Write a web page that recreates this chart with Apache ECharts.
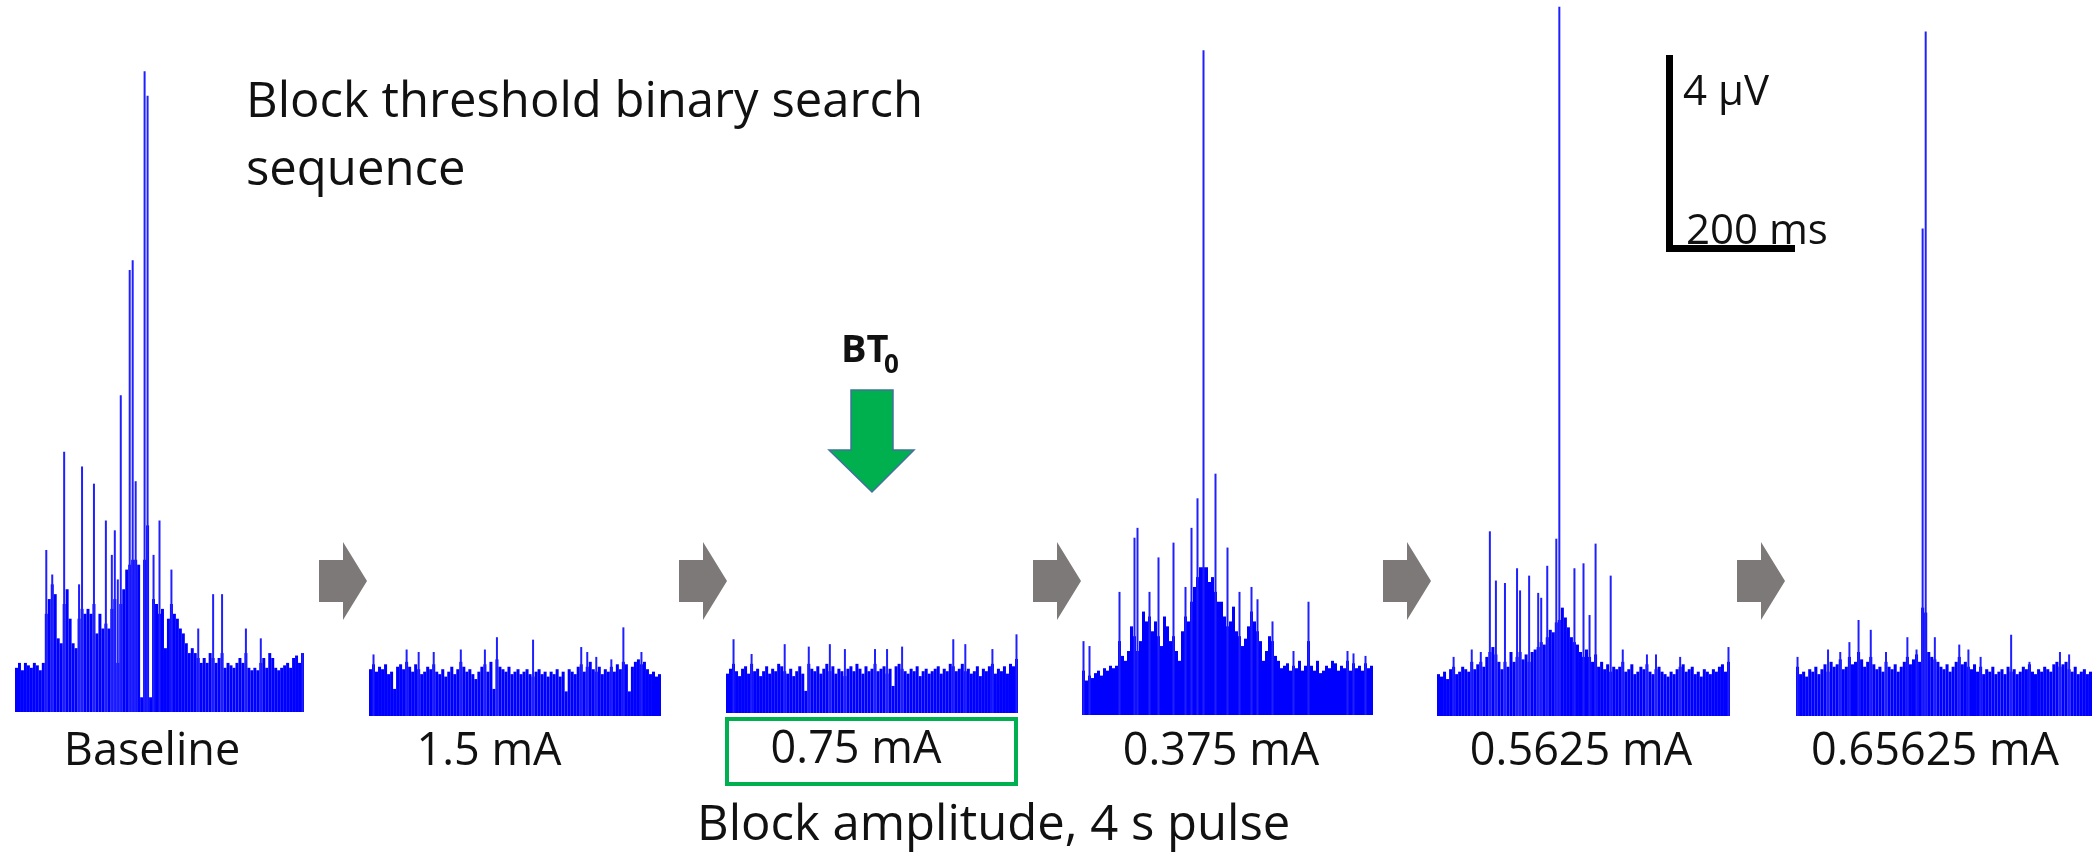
<!DOCTYPE html>
<html>
<head>
<meta charset="utf-8">
<title>Block threshold binary search sequence</title>
<script src="https://cdn.jsdelivr.net/npm/echarts@6.0.0/dist/echarts.min.js"></script>
<style>
  html, body { margin: 0; padding: 0; background: #fff; }
  #chart { width: 2100px; height: 865px; }
</style>
</head>
<body>
<div id="chart"></div>
<script>
// Rectified nerve activity, µV, one value per time bin (97 bins per trace).
// "Floor" = dense noise envelope, "spikes" = [bin, µV] single-unit peaks above it.
const baselineFloor = [
  0.9, 1.0, 0.85, 1.0, 0.95, 0.9, 1.0, 0.95, 0.85, 1.0,
  2.0, 2.3, 2.6, 2.4, 1.5, 1.4, 2.2, 2.5, 1.9, 1.4,
  1.3, 1.9, 2.1, 2.0, 2.1, 2.0, 2.2, 1.6, 2.0, 1.7,
  1.8, 1.7, 2.1, 2.3, 1.0, 2.2, 2.5, 2.9, 3.0, 3.1,
  3.1, 3.0, 0.3, 3.1, 3.8, 0.3, 2.3, 2.2, 2.0, 2.1,
  1.3, 1.9, 2.2, 2.0, 1.9, 1.7, 1.6, 1.4, 1.2, 1.3,
  1.2, 1.1, 1.0, 1.1, 1.0, 1.2, 1.1, 1.0, 1.1, 1.2,
  0.9, 1.0, 0.95, 0.9, 1.0, 1.1, 1.0, 1.2, 0.9, 0.85,
  0.9, 0.85, 1.0, 1.1, 0.9, 1.2, 1.1, 0.9, 0.85, 0.9,
  0.95, 1.0, 0.9, 1.1, 1.15, 1.0, 1.2
];
const baselineSpikes = [
  [10, 3.3], [12, 2.8], [16, 5.3], [21, 2.6], [22, 5.0], [26, 4.65], [30, 3.9],
  [32, 3.2], [33, 3.7], [34, 2.7], [35, 6.45], [38, 9.0], [39, 9.2], [40, 4.7],
  [43, 13.05], [44, 12.55], [46, 3.2], [48, 3.9], [52, 2.9], [61, 1.7], [66, 2.4],
  [69, 2.4], [77, 1.7], [82, 1.5], [96, 1.2]
];

const ma150Floor = [
  0.95, 1.05, 0.9, 1.0, 0.95, 1.05, 0.85, 0.9, 0.55, 1.0,
  1.05, 0.95, 1.1, 1.0, 0.9, 1.05, 0.95, 0.85, 0.9, 1.0,
  0.95, 1.05, 0.9, 0.85, 0.95, 0.8, 0.9, 1.0, 0.85, 0.95,
  1.1, 1.0, 0.9, 0.95, 0.85, 0.75, 0.9, 1.0, 1.05, 0.9,
  1.1, 0.55, 1.15, 1.0, 0.95, 0.9, 1.0, 0.85, 0.9, 0.95,
  0.85, 0.9, 0.95, 0.85, 0.8, 0.9, 0.95, 0.85, 0.9, 0.8,
  0.9, 0.85, 0.95, 0.8, 0.9, 0.5, 0.95, 0.9, 0.85, 1.0,
  1.05, 0.9, 1.0, 1.1, 0.95, 0.9, 1.0, 0.85, 0.95, 0.9,
  1.0, 0.9, 1.05, 0.95, 1.1, 1.05, 0.5, 1.0, 1.1, 1.15,
  1.05, 1.1, 0.95, 0.85, 0.9, 0.8, 0.85
];
const ma150Spikes = [
  [1, 1.25], [12, 1.35], [16, 1.3], [21, 1.3], [30, 1.35], [38, 1.35], [42, 1.6],
  [54, 1.55], [70, 1.4], [72, 1.3], [75, 1.2], [80, 1.15], [84, 1.8], [90, 1.3]
];

const ma075Floor = [
  0.8, 0.9, 1.0, 0.85, 0.75, 0.9, 0.95, 0.8, 1.0, 0.85,
  0.9, 0.75, 0.85, 0.95, 0.8, 0.9, 0.85, 1.0, 0.95, 0.85,
  0.8, 0.9, 0.75, 0.85, 0.95, 0.8, 0.45, 1.0, 0.9, 0.85,
  0.95, 0.8, 0.9, 1.0, 0.85, 0.95, 0.8, 0.9, 0.85, 0.75,
  0.9, 0.95, 0.85, 1.0, 0.9, 0.8, 0.95, 0.85, 0.9, 1.0,
  0.85, 0.9, 0.95, 0.8, 0.9, 0.55, 0.95, 1.0, 0.9, 0.85,
  0.8, 0.9, 0.85, 0.95, 0.75, 0.85, 0.9, 0.8, 0.85, 0.9,
  0.95, 0.8, 0.9, 0.85, 1.0, 0.95, 0.85, 0.9, 1.0, 0.85,
  0.9, 0.8, 0.85, 0.95, 0.75, 0.9, 0.85, 0.95, 1.0, 0.8,
  0.9, 0.85, 0.95, 0.8, 1.0, 0.95, 1.1
];
const ma075Spikes = [
  [2, 1.5], [8, 1.2], [19, 1.4], [27, 1.35], [34, 1.4], [39, 1.3], [49, 1.3],
  [53, 1.3], [58, 1.35], [75, 1.5], [79, 1.4], [88, 1.3], [96, 1.6]
];

const ma0375Floor = [
  0.9, 0.7, 0.8, 0.75, 0.85, 0.9, 0.8, 0.95, 0.9, 1.0,
  0.95, 1.0, 1.5, 1.2, 1.1, 1.3, 1.8, 1.6, 1.3, 1.5,
  2.1, 1.9, 2.0, 1.7, 1.9, 1.6, 1.4, 2.0, 1.8, 1.5,
  1.6, 1.3, 1.1, 1.7, 2.0, 1.9, 2.3, 2.6, 2.8, 3.0,
  3.0, 3.0, 2.7, 2.8, 2.5, 2.3, 2.3, 2.0, 1.8, 1.9,
  2.2, 1.7, 1.6, 1.4, 1.55, 1.8, 2.1, 1.9, 1.7, 1.5,
  1.1, 1.3, 1.6, 1.5, 1.2, 1.1, 0.95, 1.0, 1.05, 0.9,
  1.0, 0.95, 1.1, 0.9, 1.0, 1.5, 1.0, 0.9, 1.1, 0.85,
  0.9, 1.0, 0.95, 1.1, 1.05, 0.9, 1.0, 0.95, 1.1, 0.9,
  1.05, 0.95, 1.0, 0.9, 1.05, 0.95, 1.0
];
const ma0375Spikes = [
  [0, 1.5], [2, 1.4], [12, 2.5], [17, 3.6], [18, 3.8], [22, 2.5], [25, 3.2],
  [30, 3.5], [34, 2.6], [36, 3.8], [38, 4.4], [40, 13.5], [44, 4.9], [48, 3.4],
  [52, 2.5], [56, 2.6], [58, 2.35], [63, 1.9], [70, 1.3], [75, 2.3], [88, 1.3],
  [90, 1.25], [94, 1.2]
];

const ma05625Floor = [
  0.85, 0.8, 0.9, 0.75, 0.95, 1.0, 0.85, 0.9, 1.0, 0.95,
  0.9, 1.1, 0.95, 1.05, 1.1, 1.0, 1.2, 1.3, 1.4, 1.25,
  1.1, 0.95, 1.1, 1.0, 1.3, 1.1, 1.2, 1.3, 1.15, 1.25,
  1.1, 1.3, 1.35, 1.4, 1.5, 1.45, 1.6, 1.75, 1.7, 1.9,
  1.95, 2.2, 2.0, 1.8, 1.6, 1.5, 1.45, 1.3, 1.2, 1.35,
  1.2, 1.1, 1.25, 1.0, 1.1, 0.95, 1.05, 0.9, 1.0, 0.95,
  1.0, 1.1, 0.9, 0.95, 1.05, 0.85, 0.9, 1.0, 0.95, 1.05,
  0.9, 0.85, 0.95, 1.0, 0.9, 0.85, 0.8, 0.9, 0.85, 0.95,
  1.0, 1.05, 0.9, 0.95, 1.0, 0.85, 0.9, 0.8, 0.95, 0.9,
  0.85, 0.95, 0.9, 1.0, 1.05, 0.9, 1.1
];
const ma05625Spikes = [
  [5, 1.2], [11, 1.35], [14, 1.3], [17, 3.75], [19, 2.75], [22, 2.7], [26, 3.0],
  [27, 2.55], [30, 2.85], [33, 2.5], [34, 2.4], [36, 3.05], [39, 3.6], [40, 14.4],
  [45, 3.0], [48, 3.1], [50, 2.05], [52, 3.5], [57, 2.85], [61, 1.35], [69, 1.25],
  [72, 1.25], [80, 1.2], [96, 1.4]
];

const ma065625Floor = [
  1.0, 0.85, 0.9, 0.8, 0.95, 0.9, 1.0, 0.85, 0.95, 1.05,
  0.9, 1.1, 1.0, 1.05, 1.15, 0.95, 1.0, 1.2, 1.05, 1.1,
  1.3, 1.15, 1.0, 1.1, 1.2, 1.05, 0.95, 1.0, 0.9, 1.1,
  1.0, 0.95, 1.05, 0.9, 1.0, 1.1, 1.2, 1.05, 1.15, 1.25,
  1.1, 2.2, 2.1, 1.3, 1.2, 1.15, 1.1, 1.0, 0.95, 1.05,
  0.9, 1.0, 1.1, 1.2, 1.05, 1.1, 1.0, 0.95, 1.05, 0.9,
  1.0, 0.85, 0.95, 0.9, 1.0, 0.85, 0.9, 0.95, 0.85, 1.0,
  0.9, 0.95, 0.85, 0.9, 1.0, 0.95, 1.05, 0.9, 0.85, 0.95,
  0.9, 1.0, 0.95, 0.9, 1.05, 1.1, 1.0, 1.05, 1.1, 0.95,
  0.9, 1.0, 0.85, 0.9, 0.95, 0.85, 0.9
];
const ma065625Spikes = [
  [0, 1.2], [10, 1.35], [14, 1.3], [17, 1.5], [20, 1.95], [24, 1.75], [29, 1.3],
  [36, 1.6], [39, 1.35], [41, 9.9], [42, 13.9], [45, 1.6], [53, 1.45], [56, 1.35],
  [60, 1.2], [70, 1.65], [76, 1.1], [86, 1.3], [89, 1.25]
];

const panelLabels = ["Baseline", "1.5 mA", "0.75 mA", "0.375 mA", "0.5625 mA", "0.65625 mA"];
const floors = [baselineFloor, ma150Floor, ma075Floor, ma0375Floor, ma05625Floor, ma065625Floor];
const spikes = [baselineSpikes, ma150Spikes, ma075Spikes, ma0375Spikes, ma05625Spikes, ma065625Spikes];

// ---- layout (pixels) ----
const PX_PER_UV = 49.25;       // 4 µV scale bar = 197 px
const Y_MAX = 14.5;
const GRID_H = Y_MAX * PX_PER_UV;
const boxes = [
  { left: 15,   width: 289, bottom: 712 },
  { left: 369,  width: 292, bottom: 716 },
  { left: 726,  width: 292, bottom: 713 },
  { left: 1082, width: 291, bottom: 715 },
  { left: 1437, width: 293, bottom: 716 },
  { left: 1796, width: 296, bottom: 716 }
];
const labelX = [152, 489, 856, 1221, 1581, 1935];
const labelBase = [765, 765, 763, 765, 765, 765];
const grayArrowX = [319, 679, 1033, 1383, 1737];

const FONT = "'Open Sans', 'Noto Sans', sans-serif";
const BLUE = "#0000ff";

// place text by its alphabetic baseline (zrender draws with a middle baseline)
function txt(str, x, base, size, align, weight) {
  return {
    type: "text",
    silent: true,
    style: {
      text: str,
      x: x,
      y: base - 0.285 * size,
      fontSize: size,
      fontFamily: FONT,
      fontWeight: weight || "normal",
      fill: "#111",
      align: align || "left",
      verticalAlign: "middle"
    }
  };
}

const grids = [], xAxes = [], yAxes = [], series = [];
boxes.forEach((b, k) => {
  grids.push({ left: b.left, width: b.width, top: b.bottom - GRID_H, height: GRID_H });
  const bins = floors[k].map((_, i) => i);
  xAxes.push({ type: "category", gridIndex: k, data: bins, show: false });
  xAxes.push({ type: "category", gridIndex: k, data: bins, show: false });
  yAxes.push({ type: "value", gridIndex: k, min: 0, max: Y_MAX, show: false });
  series.push({
    type: "bar", xAxisIndex: 2 * k, yAxisIndex: k,
    data: floors[k], barWidth: "100%",
    itemStyle: { color: BLUE }, silent: true
  });
  series.push({
    type: "bar", xAxisIndex: 2 * k + 1, yAxisIndex: k,
    data: spikes[k], barWidth: 2,
    itemStyle: { color: "#2020ff" }, silent: true
  });
});

const graphics = [];
graphics.push(txt("Block threshold binary search", 246, 117, 49));
graphics.push(txt("sequence", 246, 185, 49));
graphics.push(txt("Block amplitude, 4 s pulse", 697, 840, 49));
panelLabels.forEach((l, k) => graphics.push(txt(l, labelX[k], labelBase[k], 45, "center")));

// gray step arrows between traces
grayArrowX.forEach(x => {
  graphics.push({
    type: "polygon", silent: true,
    shape: { points: [[x, 560], [x + 24, 560], [x + 24, 542], [x + 48, 581], [x + 24, 620], [x + 24, 602], [x, 602]] },
    style: { fill: "#7d7978" }
  });
});

// green box around the BT0 amplitude
graphics.push({
  type: "rect", silent: true,
  shape: { x: 727, y: 719, width: 289, height: 65 },
  style: { fill: "none", stroke: "#00b050", lineWidth: 4 }
});

// BT0 arrow + label
graphics.push({
  type: "polygon", silent: true,
  shape: { points: [[851, 390], [893, 390], [893, 450], [914, 450], [872, 492], [829, 450], [851, 450]] },
  style: { fill: "#00b04f", stroke: "#41719c", lineWidth: 1.5 }
});
graphics.push(txt("BT", 841, 362, 38, "left", "bold"));
graphics.push(txt("0", 884, 373, 26, "left", "bold"));

// scale bar: 4 µV vertical, 200 ms horizontal
const barTop = 252 - 4 * PX_PER_UV;
graphics.push({ type: "rect", silent: true, shape: { x: 1666, y: barTop, width: 7, height: 252 - barTop }, style: { fill: "#000" } });
graphics.push({ type: "rect", silent: true, shape: { x: 1666, y: 245, width: 129, height: 7 }, style: { fill: "#000" } });
graphics.push(txt("4 μV", 1683, 105, 42));
graphics.push(txt("200 ms", 1686, 244, 42));

const chart = echarts.init(document.getElementById("chart"), null, { renderer: "canvas" });
chart.setOption({
  animation: false,
  backgroundColor: "#fff",
  grid: grids,
  xAxis: xAxes,
  yAxis: yAxes,
  series: series,
  graphic: { elements: graphics }
});
</script>
</body>
</html>
